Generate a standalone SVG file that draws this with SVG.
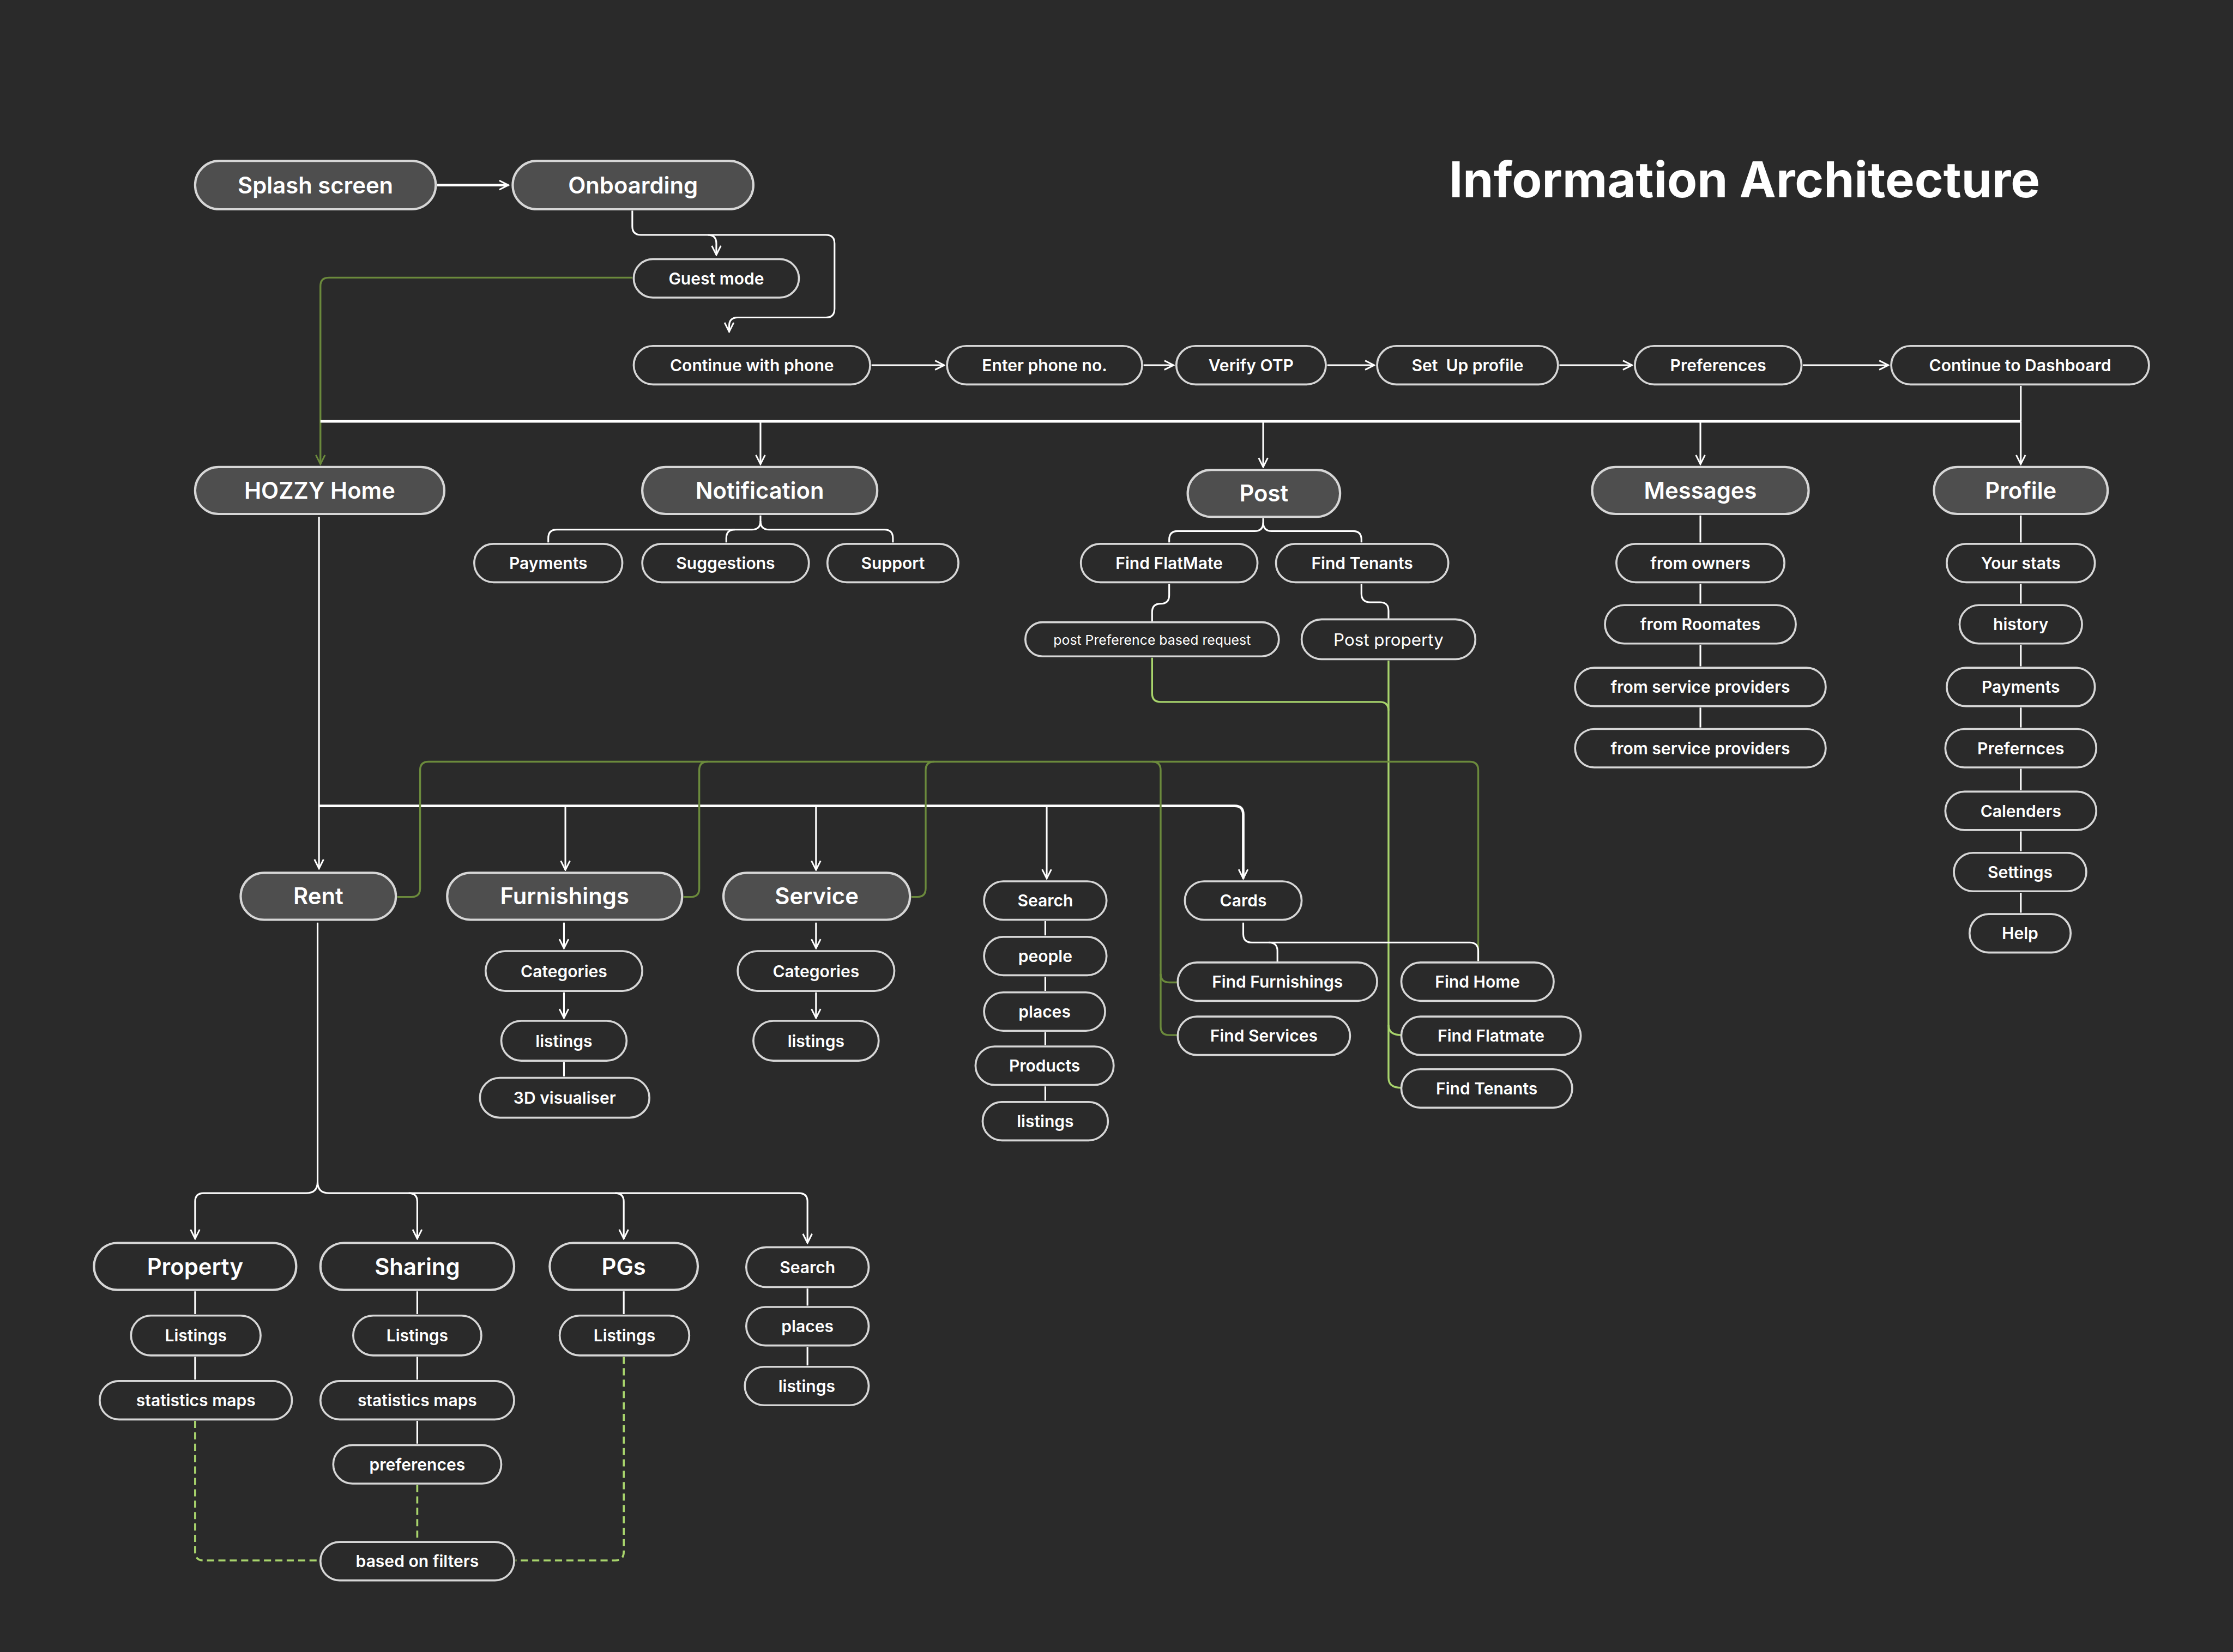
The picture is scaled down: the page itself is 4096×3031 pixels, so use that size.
<svg xmlns="http://www.w3.org/2000/svg" width="4096" height="3031" viewBox="0 0 4096 3031">
<style>
.bg{fill:#2a2a2a}
.big{fill:#4e4e4e;stroke:#d6d6d6;stroke-width:1.6}
.sm{fill:#2a2a2a;stroke:#d6d6d6;stroke-width:1.4}
.bo{fill:#2a2a2a;stroke:#d6d6d6;stroke-width:1.6}
text{font-family:Inter,"Noto Sans","Liberation Sans",sans-serif;fill:#ffffff;text-anchor:middle;dominant-baseline:central;font-weight:600}
.tb{font-size:16px}
.ts{font-size:11.5px}
.tn{font-weight:400}
.title{font-size:34.5px;font-weight:700}
.c{fill:none;stroke:#ffffff;stroke-width:1.2}
.ch{fill:none;stroke:#ffffff;stroke-width:1.8}
.g{fill:none;stroke:#6b8a3c;stroke-width:1.3}
.l{fill:none;stroke:#a8d46c;stroke-width:1.3}
.d{fill:none;stroke:#a8d46c;stroke-width:1.4;stroke-dasharray:5 3}
</style>
<defs>
<marker id="a" viewBox="0 0 10 10" refX="9" refY="5" markerUnits="userSpaceOnUse" markerWidth="8" markerHeight="8" orient="auto">
<path d="M1,1 L9,5 L1,9" fill="none" stroke="#ffffff" stroke-width="1.4"/>
</marker>
<marker id="ag" viewBox="0 0 10 10" refX="9" refY="5" markerUnits="userSpaceOnUse" markerWidth="8" markerHeight="8" orient="auto">
<path d="M1,1 L9,5 L1,9" fill="none" stroke="#6b8a3c" stroke-width="1.4"/>
</marker>
</defs>
<rect class="bg" x="0" y="0" width="4096" height="3031"/>
<g transform="scale(2.612245)">
<text class="title" x="1225" y="126">Information Architecture</text>

<g id="connectors">
<path class="ch" d="M307,130 H357" marker-end="url(#a)"/>
<path class="c" d="M444,148 V159 Q444,165 450,165 H580 Q586,165 586,171 V217 Q586,223 580,223 H518 Q512,223 512,229 V233" marker-end="url(#a)"/>
<path class="c" d="M497,165 Q503,165 503,171 V179" marker-end="url(#a)"/>
<path class="g" d="M444,195 H231 Q225,195 225,201 V326" marker-end="url(#ag)"/>
<path class="c" d="M612,256.5 H663" marker-end="url(#a)"/>
<path class="c" d="M803,256.5 H824" marker-end="url(#a)"/>
<path class="c" d="M932,256.5 H965" marker-end="url(#a)"/>
<path class="c" d="M1095,256.5 H1146" marker-end="url(#a)"/>
<path class="c" d="M1266,256.5 H1326" marker-end="url(#a)"/>
<path class="c" d="M1419,271 V296"/>
<path class="ch" d="M225,296 H1419"/>
<path class="c" d="M534,296 V326" marker-end="url(#a)"/>
<path class="c" d="M887,296 V328" marker-end="url(#a)"/>
<path class="c" d="M1194,296 V326" marker-end="url(#a)"/>
<path class="c" d="M1419,296 V326" marker-end="url(#a)"/>
<path class="c" d="M534,362 V366 Q534,372 528,372 H391 Q385,372 385,378 V381"/>
<path class="c" d="M534,366 Q534,372 540,372 H621 Q627,372 627,378 V381"/>
<path class="c" d="M516,372 Q510,372 510,378 V381"/>
<path class="c" d="M887,364 V367 Q887,373 881,373 H827 Q821,373 821,379 V381"/>
<path class="c" d="M887,367 Q887,373 893,373 H950 Q956,373 956,379 V381"/>
<path class="c" d="M821,410 V418 Q821,424 815,424 Q809,424 809,430 V437"/>
<path class="c" d="M956,410 V417 Q956,423 962,423 H969 Q975,423 975,429 V435"/>
<path class="l" d="M809,462 V487 Q809,493 815,493 H969 Q975,493 975,499"/>
<path class="l" d="M975,464 V757 Q975,764 984,764"/>
<path class="l" d="M975,720 Q975,727 984,727"/>
<path class="c" d="M1194,362 V381 M1194,410 V424 M1194,453 V468 M1194,497 V511"/>
<path class="c" d="M1419,362 V381 M1419,410 V424 M1419,453 V468 M1419,497 V511 M1419,540 V555 M1419,584 V598 M1419,627 V641"/>
<path class="c" d="M224,363 V610" marker-end="url(#a)"/>
<path class="ch" d="M224,566 H867 Q873,566 873,572 V617" marker-end="url(#a)"/>
<path class="c" d="M397,566 V611" marker-end="url(#a)"/>
<path class="c" d="M573,566 V611" marker-end="url(#a)"/>
<path class="c" d="M735,566 V617" marker-end="url(#a)"/>
<path class="g" d="M279,630 H289 Q295,630 295,624 V541 Q295,535 301,535 H1032 Q1038,535 1038,541 V675"/>
<path class="g" d="M480,630 H485 Q491,630 491,624 V541 Q491,535 497,535"/>
<path class="g" d="M640,630 H644 Q650,630 650,624 V541 Q650,535 656,535"/>
<path class="g" d="M809,535 Q815,535 815,541 V684 Q815,690 821,690 H827"/>
<path class="g" d="M815,684 V721 Q815,727 821,727 H827"/>
<path class="c" d="M873,648 V656 Q873,662 879,662 H1032 Q1038,662 1038,668 V675"/>
<path class="c" d="M891,662 Q897,662 897,668 V676"/>
<path class="c" d="M396,648 V666" marker-end="url(#a)"/>
<path class="c" d="M396,697 V715" marker-end="url(#a)"/>
<path class="c" d="M396,746 V756"/>
<path class="c" d="M573,648 V666" marker-end="url(#a)"/>
<path class="c" d="M573,697 V715" marker-end="url(#a)"/>
<path class="c" d="M734,647 V657 M734,686 V696 M734,725 V734 M734,763 V773"/>
<path class="c" d="M223,648 V830 Q223,838 231,838 H561 Q567,838 567,844 V873" marker-end="url(#a)"/>
<path class="c" d="M223,830 Q223,838 215,838 H143 Q137,838 137,844 V870" marker-end="url(#a)"/>
<path class="c" d="M287,838 Q293,838 293,844 V870" marker-end="url(#a)"/>
<path class="c" d="M432,838 Q438,838 438,844 V870" marker-end="url(#a)"/>
<path class="c" d="M137,907 V923 M137,953 V969 M293,907 V923 M293,953 V969 M293,998 V1014 M438,907 V923 M567,905 V917 M567,946 V959"/>
<path class="d" d="M137,998 V1090 Q137,1096 143,1096 H224"/>
<path class="d" d="M293,1043 V1082"/>
<path class="d" d="M438,953 V1090 Q438,1096 432,1096 H362"/>
</g>

<g id="splash"><rect class="big" x="137" y="113" width="169" height="34" rx="17"/><text class="tb" x="221.5" y="130">Splash screen</text></g>
<g id="onboarding"><rect class="big" x="360" y="113" width="169" height="34" rx="17"/><text class="tb" x="444.5" y="130">Onboarding</text></g>
<g id="guest"><rect class="sm" x="445" y="182" width="116" height="27" rx="13.5"/><text class="ts" x="503" y="195.5">Guest mode</text></g>
<g id="cwp"><rect class="sm" x="445" y="243" width="166" height="27" rx="13.5"/><text class="ts" x="528" y="256.5">Continue with phone</text></g>
<g id="enter"><rect class="sm" x="665" y="243" width="137" height="27" rx="13.5"/><text class="ts" x="733.5" y="256.5">Enter phone no.</text></g>
<g id="verify"><rect class="sm" x="826" y="243" width="105" height="27" rx="13.5"/><text class="ts" x="878.5" y="256.5">Verify OTP</text></g>
<g id="setup"><rect class="sm" x="967" y="243" width="127" height="27" rx="13.5"/><text class="ts" x="1030.5" y="256.5" style="white-space:pre">Set  Up profile</text></g>
<g id="prefs"><rect class="sm" x="1148" y="243" width="117" height="27" rx="13.5"/><text class="ts" x="1206.5" y="256.5">Preferences</text></g>
<g id="ctd"><rect class="sm" x="1328" y="243" width="181" height="27" rx="13.5"/><text class="ts" x="1418.5" y="256.5">Continue to Dashboard</text></g>

<g id="hozzy"><rect class="big" x="137" y="328" width="175" height="33" rx="16.5"/><text class="tb" x="224.5" y="344.5">HOZZY Home</text></g>
<g id="notification"><rect class="big" x="451" y="328" width="165" height="33" rx="16.5"/><text class="tb" x="533.5" y="344.5">Notification</text></g>
<g id="post"><rect class="big" x="834" y="330" width="107" height="33" rx="16.5"/><text class="tb" x="887.5" y="346.5">Post</text></g>
<g id="messages"><rect class="big" x="1118" y="328" width="152" height="33" rx="16.5"/><text class="tb" x="1194" y="344.5">Messages</text></g>
<g id="profile"><rect class="big" x="1358" y="328" width="122" height="33" rx="16.5"/><text class="tb" x="1419" y="344.5">Profile</text></g>

<g id="n-payments"><rect class="sm" x="333" y="382" width="104" height="27" rx="13.5"/><text class="ts" x="385" y="395.5">Payments</text></g>
<g id="n-suggestions"><rect class="sm" x="451" y="382" width="117" height="27" rx="13.5"/><text class="ts" x="509.5" y="395.5">Suggestions</text></g>
<g id="n-support"><rect class="sm" x="581" y="382" width="92" height="27" rx="13.5"/><text class="ts" x="627" y="395.5">Support</text></g>

<g id="p-findflatmate"><rect class="sm" x="759" y="382" width="124" height="27" rx="13.5"/><text class="ts" x="821" y="395.5">Find FlatMate</text></g>
<g id="p-findtenants"><rect class="sm" x="896" y="382" width="121" height="27" rx="13.5"/><text class="ts" x="956.5" y="395.5">Find Tenants</text></g>
<g id="p-prefreq"><rect class="sm" x="720" y="437" width="178" height="24" rx="12"/><text class="tn" x="809" y="449.5" font-size="9.5">post Preference based request</text></g>
<g id="p-postproperty"><rect class="sm" x="914" y="435" width="122" height="28" rx="14"/><text class="tn" x="975" y="449.5" font-size="12">Post property</text></g>

<g id="m-owners"><rect class="sm" x="1135" y="382" width="118" height="27" rx="13.5"/><text class="ts" x="1194" y="395.5">from owners</text></g>
<g id="m-roomates"><rect class="sm" x="1127" y="425" width="134" height="27" rx="13.5"/><text class="ts" x="1194" y="438.5">from Roomates</text></g>
<g id="m-sp1"><rect class="sm" x="1106" y="469" width="176" height="27" rx="13.5"/><text class="ts" x="1194" y="482.5">from service providers</text></g>
<g id="m-sp2"><rect class="sm" x="1106" y="512" width="176" height="27" rx="13.5"/><text class="ts" x="1194" y="525.5">from service providers</text></g>

<g id="pr-stats"><rect class="sm" x="1367" y="382" width="104" height="27" rx="13.5"/><text class="ts" x="1419" y="395.5">Your stats</text></g>
<g id="pr-history"><rect class="sm" x="1376" y="425" width="86" height="27" rx="13.5"/><text class="ts" x="1419" y="438.5">history</text></g>
<g id="pr-payments"><rect class="sm" x="1367" y="469" width="104" height="27" rx="13.5"/><text class="ts" x="1419" y="482.5">Payments</text></g>
<g id="pr-prefernces"><rect class="sm" x="1366" y="512" width="106" height="27" rx="13.5"/><text class="ts" x="1419" y="525.5">Prefernces</text></g>
<g id="pr-calenders"><rect class="sm" x="1366" y="556" width="106" height="27" rx="13.5"/><text class="ts" x="1419" y="569.5">Calenders</text></g>
<g id="pr-settings"><rect class="sm" x="1372" y="599" width="93" height="27" rx="13.5"/><text class="ts" x="1418.5" y="612.5">Settings</text></g>
<g id="pr-help"><rect class="sm" x="1383" y="642" width="71" height="27" rx="13.5"/><text class="ts" x="1418.5" y="655.5">Help</text></g>

<g id="rent"><rect class="big" x="169" y="613" width="109" height="33" rx="16.5"/><text class="tb" x="223.5" y="629.5">Rent</text></g>
<g id="furnishings"><rect class="big" x="314" y="613" width="165" height="33" rx="16.5"/><text class="tb" x="396.5" y="629.5">Furnishings</text></g>
<g id="service"><rect class="big" x="508" y="613" width="131" height="33" rx="16.5"/><text class="tb" x="573.5" y="629.5">Service</text></g>

<g id="f-categories"><rect class="sm" x="341" y="668" width="110" height="28" rx="14"/><text class="ts" x="396" y="682">Categories</text></g>
<g id="f-listings"><rect class="sm" x="352" y="717" width="88" height="28" rx="14"/><text class="ts" x="396" y="731">listings</text></g>
<g id="f-3d"><rect class="sm" x="337" y="757" width="119" height="28" rx="14"/><text class="ts" x="396.5" y="771">3D visualiser</text></g>
<g id="s-categories"><rect class="sm" x="518" y="668" width="110" height="28" rx="14"/><text class="ts" x="573" y="682">Categories</text></g>
<g id="s-listings"><rect class="sm" x="529" y="717" width="88" height="28" rx="14"/><text class="ts" x="573" y="731">listings</text></g>

<g id="search"><rect class="sm" x="691" y="619" width="86" height="27" rx="13.5"/><text class="ts" x="734" y="632.5">Search</text></g>
<g id="people"><rect class="sm" x="691" y="658" width="86" height="27" rx="13.5"/><text class="ts" x="734" y="671.5">people</text></g>
<g id="places"><rect class="sm" x="691" y="697" width="85" height="27" rx="13.5"/><text class="ts" x="733.5" y="710.5">places</text></g>
<g id="products"><rect class="sm" x="685" y="735" width="97" height="27" rx="13.5"/><text class="ts" x="733.5" y="748.5">Products</text></g>
<g id="listings"><rect class="sm" x="690" y="774" width="88" height="27" rx="13.5"/><text class="ts" x="734" y="787.5">listings</text></g>

<g id="cards"><rect class="sm" x="832" y="619" width="82" height="27" rx="13.5"/><text class="ts" x="873" y="632.5">Cards</text></g>
<g id="findfurnishings"><rect class="sm" x="827" y="676" width="140" height="27" rx="13.5"/><text class="ts" x="897" y="689.5">Find Furnishings</text></g>
<g id="findservices"><rect class="sm" x="827" y="714" width="121" height="27" rx="13.5"/><text class="ts" x="887.5" y="727.5">Find Services</text></g>
<g id="findhome"><rect class="sm" x="984" y="676" width="107" height="27" rx="13.5"/><text class="ts" x="1037.5" y="689.5">Find Home</text></g>
<g id="findflatmate"><rect class="sm" x="984" y="714" width="126" height="27" rx="13.5"/><text class="ts" x="1047" y="727.5">Find Flatmate</text></g>
<g id="findtenants"><rect class="sm" x="984" y="751" width="120" height="27" rx="13.5"/><text class="ts" x="1044" y="764.5">Find Tenants</text></g>

<g id="property"><rect class="bo" x="66" y="873" width="142" height="33" rx="16.5"/><text class="tb" x="137" y="889.5">Property</text></g>
<g id="sharing"><rect class="bo" x="225" y="873" width="136" height="33" rx="16.5"/><text class="tb" x="293" y="889.5">Sharing</text></g>
<g id="pgs"><rect class="bo" x="386" y="873" width="104" height="33" rx="16.5"/><text class="tb" x="438" y="889.5">PGs</text></g>
<g id="b-search"><rect class="sm" x="524" y="876" width="86" height="28" rx="14"/><text class="ts" x="567" y="890">Search</text></g>

<g id="b-listings1"><rect class="sm" x="92" y="924" width="91" height="28" rx="14"/><text class="ts" x="137.5" y="938">Listings</text></g>
<g id="b-stats1"><rect class="sm" x="70" y="970" width="135" height="27" rx="13.5"/><text class="ts" x="137.5" y="983.5">statistics maps</text></g>
<g id="b-listings2"><rect class="sm" x="248" y="924" width="90" height="28" rx="14"/><text class="ts" x="293" y="938">Listings</text></g>
<g id="b-stats2"><rect class="sm" x="225" y="970" width="136" height="27" rx="13.5"/><text class="ts" x="293" y="983.5">statistics maps</text></g>
<g id="b-preferences"><rect class="sm" x="234" y="1015" width="118" height="27" rx="13.5"/><text class="ts" x="293" y="1028.5">preferences</text></g>
<g id="b-listings3"><rect class="sm" x="393" y="924" width="91" height="28" rx="14"/><text class="ts" x="438.5" y="938">Listings</text></g>
<g id="b-places"><rect class="sm" x="524" y="918" width="86" height="27" rx="13.5"/><text class="ts" x="567" y="931.5">places</text></g>
<g id="b-listings4"><rect class="sm" x="523" y="960" width="87" height="27" rx="13.5"/><text class="ts" x="566.5" y="973.5">listings</text></g>
<g id="filters"><rect class="sm" x="225" y="1083" width="136" height="27" rx="13.5"/><text class="ts" x="293" y="1096.5">based on filters</text></g>
</g>
</svg>
